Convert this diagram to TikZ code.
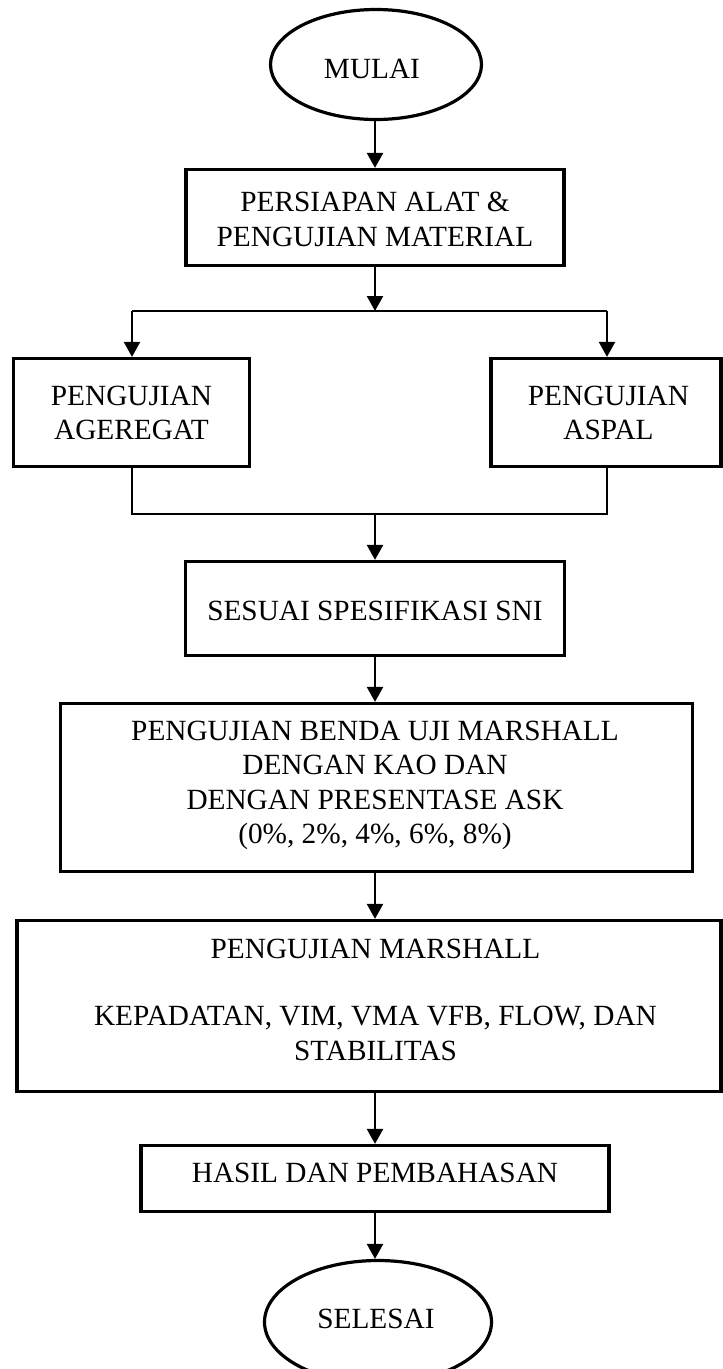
\documentclass[tikz,border=0pt]{standalone}
\usepackage{fontspec}
\setmainfont{Liberation Serif}
\usetikzlibrary{arrows.meta,shapes.geometric}
\begin{document}
\begin{tikzpicture}[x=1pt,y=-1pt,
  every node/.style={font=\fontsize{29.3}{34.5}\selectfont, inner sep=0pt, align=center},
  box/.style={draw, line width=3.2pt, rectangle},
  term/.style={draw, line width=3.2pt, ellipse},
  txt/.style={anchor=north},
  arr/.style={line width=2.3pt, -{Triangle[length=15pt,width=16pt]}},
  thin/.style={line width=1.5pt}]
\useasboundingbox (0,0) rectangle (723,1369);

% shapes
\node[term, minimum width=211pt, minimum height=110pt] (mulai) at (376,64.5) {};
\node[box, minimum width=378pt, minimum height=96pt] (persiapan) at (375,217.5) {};
\node[box, minimum width=236pt, minimum height=108pt] (agregat) at (131.5,412.5) {};
\node[box, minimum width=230pt, minimum height=108pt] (aspal) at (606,412.5) {};
\node[box, minimum width=379pt, minimum height=94pt] (sni) at (375,608.5) {};
\node[box, minimum width=632pt, minimum height=168pt] (benda) at (376.5,787.5) {};
\node[box, minimum width=704pt, minimum height=171pt] (marshall) at (369,1006) {};
\node[box, minimum width=468pt, minimum height=66pt] (hasil) at (375,1178.5) {};
\node[term, minimum width=227pt, minimum height=123pt] (selesai) at (378,1322) {};

% texts
\node[txt] (mulaitext) at (372,58.6) {MULAI};
\node[txt] (persiapantext) at (375,192.3) {PERSIAPAN ALAT \&\\PENGUJIAN MATERIAL};
\node[txt] (agregattext) at (131.5,385.6) {PENGUJIAN\\AGEREGAT};
\node[txt] (aspaltext) at (608.5,385.6) {PENGUJIAN\\ASPAL};
\node[txt] (snitext) at (375,600.6) {SESUAI SPESIFIKASI SNI};
\node[txt] (bendatext) at (375,720.6) {PENGUJIAN BENDA UJI MARSHALL\\DENGAN KAO DAN\\DENGAN PRESENTASE ASK\\(0\%, 2\%, 4\%, 6\%, 8\%)};
\node[txt] (marshalltext) at (375.5,938.6) {PENGUJIAN MARSHALL\\[33pt]KEPADATAN, VIM, VMA VFB, FLOW, DAN\\STABILITAS};
\node[txt] (hasiltext) at (375,1162.6) {HASIL DAN PEMBAHASAN};
\node[txt] (selesaitext) at (376,1308.6) {SELESAI};

% connectors
\coordinate (jc) at (375,311);
\coordinate (jl) at (132,311);
\coordinate (jr) at (607,311);
\coordinate (kc) at (375,514);
\coordinate (kl) at (132,514);
\coordinate (kr) at (607,514);
\coordinate (bc) at (375,873);

\draw[arr] (mulai.south -| jc) -- (jc |- persiapan.north);
\draw[arr] (persiapan.south) -- (jc);
\draw[thin] (jl) -- (jr);
\draw[arr] (jl) -- (jl |- agregat.north);
\draw[arr] (jr) -- (jr |- aspal.north);
\draw[thin] (jl |- agregat.south) -- (kl) -- (kr) -- (jr |- aspal.south);
\draw[arr] (kc) -- (kc |- sni.north);
\draw[arr] (sni.south) -- (sni.south |- benda.north);
\draw[arr] (bc |- benda.south) -- (bc |- marshall.north);
\draw[arr] (bc |- marshall.south) -- (hasil.north);
\draw[arr] (hasil.south) -- (hasil.south |- selesai.north);
\end{tikzpicture}
\end{document}
